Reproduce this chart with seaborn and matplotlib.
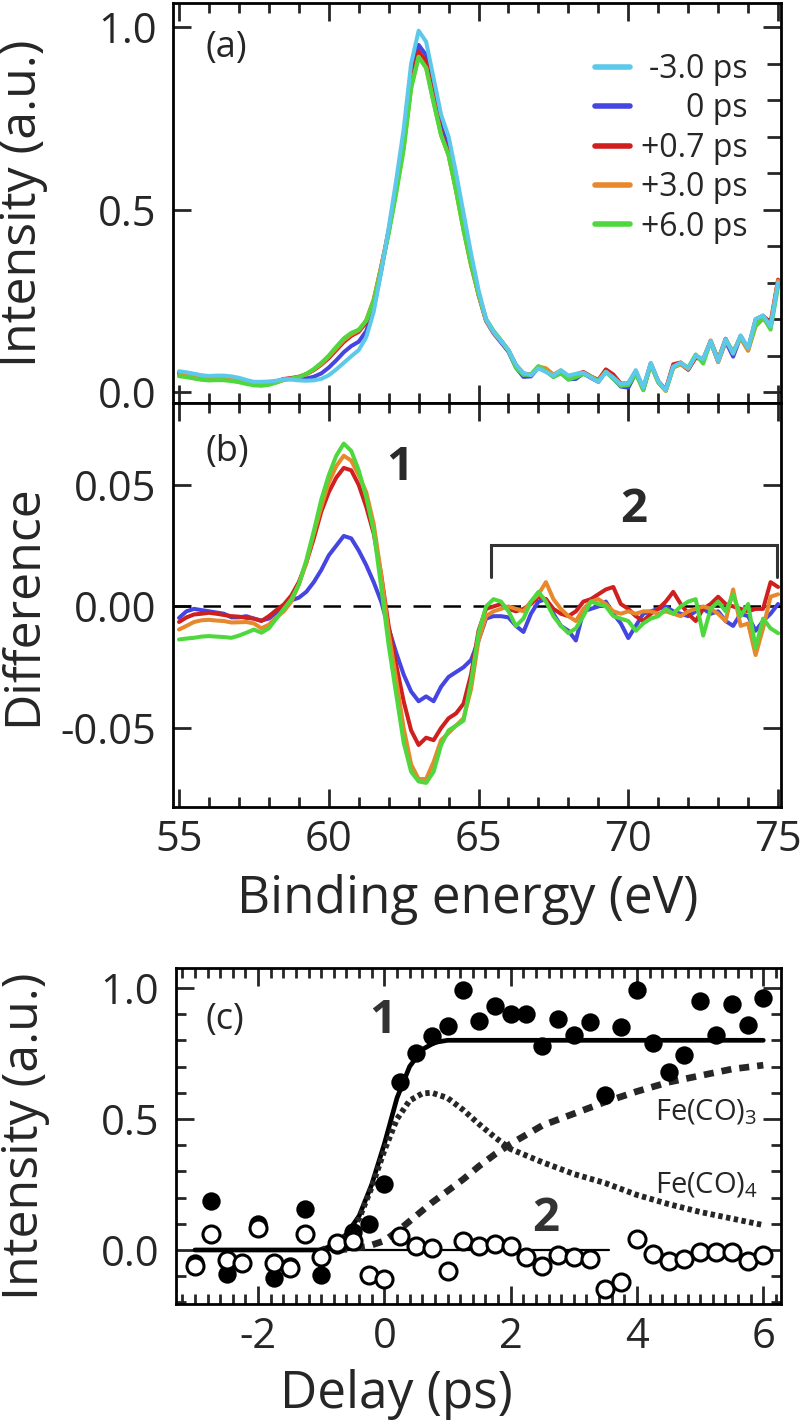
import numpy as np
import pandas as pd
import seaborn as sns
import matplotlib.pyplot as plt
from matplotlib.ticker import MultipleLocator, FixedLocator, FormatStrFormatter

# === DATA: panel (a)/(b), binding energy grid (0.25 eV sampling) ===
energy = np.arange(55.0, 75.001, 0.25)

# reference spectrum at -3.0 ps
spec_m30 = [0.057, 0.054, 0.050, 0.046, 0.044, 0.045, 0.045, 0.043, 0.039, 0.033,
            0.028, 0.028, 0.029, 0.031, 0.035, 0.034, 0.032, 0.031, 0.032, 0.036,
            0.046, 0.062, 0.080, 0.098, 0.115, 0.150, 0.220, 0.330, 0.450, 0.580,
            0.720, 0.900, 0.990, 0.960, 0.860, 0.760, 0.700, 0.600, 0.490, 0.380,
            0.280, 0.200, 0.165, 0.140, 0.115, 0.075, 0.052, 0.046, 0.065, 0.055,
            0.045, 0.060, 0.045, 0.050, 0.053, 0.040, 0.028, 0.055, 0.040, 0.022,
            0.025, 0.060, 0.012, 0.080, 0.030, 0.005, 0.070, 0.080, 0.065, 0.100,
            0.090, 0.140, 0.085, 0.145, 0.105, 0.155, 0.120, 0.200, 0.210, 0.180,
            0.300]

# difference spectra (delay - reference)
diff_0 = [-0.0047, -0.002, -0.001, -0.0015, -0.002, -0.0025, -0.003, -0.0045, -0.0045, -0.004,
          -0.005, -0.0058, -0.005, -0.0026, 0.000, 0.0025, 0.0036, 0.006, 0.010, 0.015,
          0.021, 0.025, 0.029, 0.028, 0.023, 0.017, 0.010, 0.002, -0.009, -0.019,
          -0.028, -0.035, -0.039, -0.037, -0.039, -0.033, -0.029, -0.027, -0.025, -0.022,
          -0.014, -0.005, -0.004, -0.004, -0.0045, -0.008, -0.0105, -0.003, 0.002, 0.003,
          -0.003, -0.008, -0.010, -0.014, -0.002, -0.001, 0.000, 0.002, -0.003, -0.007,
          -0.013, -0.008, -0.003, -0.002, -0.001, 0.000, -0.002, -0.003, -0.004, -0.002,
          -0.001, -0.003, -0.002, -0.006, -0.008, -0.003, -0.004, -0.010, -0.006, -0.003,
          0.001]
diff_07 = [-0.0064, -0.0045, -0.0033, -0.003, -0.0026, -0.003, -0.0035, -0.004, -0.0042, -0.0047,
           -0.005, -0.006, -0.004, -0.0015, 0.0008, 0.0045, 0.010, 0.018, 0.028, 0.039,
           0.047, 0.053, 0.057, 0.056, 0.050, 0.041, 0.030, 0.013, -0.008, -0.024,
           -0.039, -0.051, -0.057, -0.054, -0.055, -0.050, -0.046, -0.044, -0.040, -0.028,
           -0.010, -0.001, 0.000, 0.001, -0.001, -0.002, -0.001, 0.001, 0.004, 0.003,
           -0.001, -0.003, -0.004, -0.002, 0.002, 0.003, 0.005, 0.007, 0.008, 0.001,
           -0.001, -0.004, -0.006, -0.003, -0.001, 0.002, 0.006, 0.001, -0.003, -0.006,
           -0.001, 0.001, 0.004, 0.001, 0.000, -0.001, -0.002, -0.001, -0.001, 0.010,
           0.008]
diff_30 = [-0.0095, -0.008, -0.0064, -0.0057, -0.0055, -0.0058, -0.006, -0.0066, -0.0065, -0.0064,
           -0.007, -0.009, -0.0075, -0.0045, -0.002, 0.002, 0.009, 0.018, 0.030, 0.041,
           0.051, 0.0577, 0.062, 0.060, 0.054, 0.047, 0.034, 0.013, -0.011, -0.030,
           -0.050, -0.065, -0.071, -0.071, -0.064, -0.055, -0.052, -0.049, -0.046, -0.034,
           -0.014, -0.004, -0.002, -0.001, 0.000, -0.001, -0.002, 0.002, 0.005, 0.010,
           0.003, -0.001, -0.004, -0.006, -0.001, 0.002, 0.003, 0.001, -0.002, -0.003,
           -0.002, -0.003, -0.002, -0.002, -0.003, -0.002, -0.003, -0.004, -0.002, -0.001,
           0.000, -0.001, -0.003, -0.006, 0.007, -0.008, -0.007, -0.020, -0.009, 0.004,
           0.005]
diff_60 = [-0.0136, -0.0132, -0.0129, -0.0124, -0.0122, -0.0124, -0.0126, -0.0129, -0.012, -0.0108,
           -0.0095, -0.0108, -0.009, -0.005, -0.001, 0.003, 0.009, 0.019, 0.031, 0.044,
           0.054, 0.062, 0.067, 0.064, 0.056, 0.045, 0.031, 0.008, -0.016, -0.036,
           -0.056, -0.068, -0.072, -0.0726, -0.068, -0.057, -0.051, -0.049, -0.047, -0.031,
           -0.011, 0.000, 0.003, 0.002, -0.002, -0.008, -0.005, 0.002, 0.006, 0.002,
           -0.004, -0.008, -0.011, -0.009, -0.004, 0.002, 0.001, 0.000, -0.004, -0.005,
           -0.006, -0.010, -0.007, -0.005, -0.004, -0.001, -0.003, 0.000, 0.002, 0.003,
           -0.012, -0.001, 0.002, -0.002, 0.005, -0.004, 0.001, -0.017, -0.005, -0.009,
           -0.011]

delay_labels = ['-3.0 ps', '0 ps', '+0.7 ps', '+3.0 ps', '+6.0 ps']
delay_colors = ['#5cc9ea', '#4545e2', '#d01f1f', '#e8882c', '#4fd83e']

# === DATA: panel (c) ===
delays = [-3.0, -2.75, -2.5, -2.25, -2.0, -1.75, -1.5, -1.25, -1.0, -0.75,
          -0.5, -0.25, 0.0, 0.25, 0.5, 0.75, 1.0, 1.25, 1.5, 1.75,
          2.0, 2.25, 2.5, 2.75, 3.0, 3.25, 3.5, 3.75, 4.0, 4.25,
          4.5, 4.75, 5.0, 5.25, 5.5, 5.75, 6.0]
peak1 = [-0.05, 0.185, -0.09, -0.05, 0.10, -0.105, -0.06, 0.155, -0.096, 0.02,
         0.07, 0.10, 0.25, 0.64, 0.75, 0.815, 0.856, 0.99, 0.875, 0.93,
         0.90, 0.90, 0.78, 0.88, 0.82, 0.87, 0.59, 0.85, 0.99, 0.79,
         0.68, 0.745, 0.95, 0.82, 0.94, 0.86, 0.96]
peak2 = [-0.062, 0.062, -0.040, -0.048, 0.082, -0.048, -0.068, 0.062, -0.027, 0.027,
         0.034, -0.096, -0.11, 0.055, 0.014, 0.007, -0.082, 0.034, 0.014, 0.021,
         0.014, -0.027, -0.062, -0.021, -0.027, -0.034, -0.15, -0.123, 0.041, -0.014,
         -0.041, -0.034, -0.007, -0.007, -0.007, -0.041, -0.021]

fit1_t = [-3.0, -1.0, -0.8, -0.6, -0.4, -0.2, 0.0, 0.2, 0.4, 0.6, 0.8, 1.0, 1.2, 6.0]
fit1 = [0.0, 0.0, 0.02, 0.06, 0.13, 0.25, 0.405, 0.58, 0.70, 0.765, 0.792, 0.80, 0.80, 0.80]
fit2_t = [-3.0, 3.55]
fit2 = [0.0, 0.0]
feco4_t = [-1.0, -0.8, -0.6, -0.4, -0.2, 0.0, 0.2, 0.4, 0.6, 0.75, 1.0, 1.25, 1.5,
           1.75, 2.0, 2.5, 3.0, 3.5, 4.0, 4.5, 5.0, 5.5, 6.0]
feco4 = [0.0, 0.02, 0.055, 0.12, 0.24, 0.38, 0.50, 0.57, 0.597, 0.60, 0.58, 0.534, 0.48,
         0.43, 0.385, 0.335, 0.29, 0.255, 0.21, 0.175, 0.145, 0.12, 0.095]
feco3_t = [-0.75, -0.5, -0.25, 0.0, 0.25, 0.5, 0.75, 1.0, 1.25, 1.5, 1.75, 2.0,
           2.5, 3.0, 3.5, 4.0, 4.5, 5.0, 5.5, 6.0]
feco3 = [0.0, 0.005, 0.015, 0.035, 0.08, 0.13, 0.18, 0.225, 0.27, 0.32, 0.365, 0.405,
         0.475, 0.52, 0.565, 0.605, 0.64, 0.665, 0.69, 0.705]

# === STYLE ===
sns.set_theme(style='ticks')
plt.rcParams['font.family'] = ['Open Sans', 'DejaVu Sans']
plt.rcParams['axes.unicode_minus'] = False
plt.rcParams['mathtext.fontset'] = 'custom'
plt.rcParams['mathtext.rm'] = 'Open Sans'

TICK_FS = 30
LABEL_FS = 36

fig = plt.figure(figsize=(8.01, 14.22), dpi=100)
ax_a = fig.add_axes([0.2160, 0.7166, 0.7591, 0.2813])
ax_b = fig.add_axes([0.2160, 0.4325, 0.7591, 0.2841])
ax_c = fig.add_axes([0.2197, 0.0830, 0.7553, 0.2363])

spectra = {
    '-3.0 ps': np.array(spec_m30),
    '0 ps': np.array(spec_m30) + np.array(diff_0),
    '+0.7 ps': np.array(spec_m30) + np.array(diff_07),
    '+3.0 ps': np.array(spec_m30) + np.array(diff_30),
    '+6.0 ps': np.array(spec_m30) + np.array(diff_60),
}
diffs = {'0 ps': diff_0, '+0.7 ps': diff_07, '+3.0 ps': diff_30, '+6.0 ps': diff_60}
color_of = dict(zip(delay_labels, delay_colors))

# --- panel (a) ---
for lab in ['0 ps', '+0.7 ps', '+3.0 ps', '+6.0 ps', '-3.0 ps']:
    sns.lineplot(x=energy, y=spectra[lab], ax=ax_a, color=color_of[lab], lw=2.9,
                 label=lab, legend=False)
handles, labels = ax_a.get_legend_handles_labels()
order = [labels.index(l) for l in delay_labels]
leg = ax_a.legend([handles[i] for i in order], [labels[i] for i in order],
                  loc='upper right', bbox_to_anchor=(0.945, 0.875), frameon=False,
                  fontsize=23, handlelength=1.1, handletextpad=0.35, labelspacing=0.2,
                  borderpad=0, borderaxespad=0)
for h in leg.get_lines():
    h.set_linewidth(4)

# right-align the legend labels
fig.canvas.draw()
widths = [t.get_window_extent().width for t in leg.get_texts()]
w = max(widths)
for t, wi in zip(leg.get_texts(), widths):
    t.set_position((w - wi, 0))

ax_a.set_xlim(54.8, 75.1)
ax_a.set_ylim(-0.03, 1.066)
ax_a.set_ylabel('Intensity (a.u.)', fontsize=LABEL_FS)
ax_a.set_xlabel('')
ax_a.text(0.053, 0.8875, '(a)', transform=ax_a.transAxes, fontsize=26, va='center', ha='left')

# --- panel (b) ---
ax_b.axhline(0, color='black', lw=1.8, ls=(0, (7, 5)), zorder=1)
for lab in ['0 ps', '+0.7 ps', '+3.0 ps', '+6.0 ps']:
    sns.lineplot(x=energy, y=diffs[lab], ax=ax_b, color=color_of[lab], lw=2.9, legend=False)
ax_b.plot([65.42, 65.42, 74.97, 74.97], [0.012, 0.0252, 0.0252, 0.012], color='#333333',
          lw=2.2, solid_joinstyle='miter')
ax_b.text(62.37, 0.057, '1', fontsize=34, fontweight='bold', color='#2a2a2a', ha='center', va='center')
ax_b.text(70.17, 0.040, '2', fontsize=34, fontweight='bold', color='#2a2a2a', ha='center', va='center')
ax_b.text(0.053, 0.879, '(b)', transform=ax_b.transAxes, fontsize=26, va='center', ha='left')
ax_b.set_xlim(54.8, 75.1)
ax_b.set_ylim(-0.0825, 0.0837)
ax_b.set_xlabel('Binding energy (eV)', fontsize=37)
ax_b.set_ylabel('Difference', fontsize=LABEL_FS)

for ax in (ax_a, ax_b):
    ax.xaxis.set_major_locator(MultipleLocator(5))
    ax.xaxis.set_minor_locator(MultipleLocator(1))
    ax.tick_params(which='both', direction='in', top=True, bottom=True, left=True, right=True,
                   width=2, labelsize=TICK_FS)
    ax.tick_params(which='major', length=13)
    ax.tick_params(which='minor', length=7)
ax_a.tick_params(axis='x', labelbottom=False)
ax_a.yaxis.set_major_locator(FixedLocator([0.0, 0.5, 1.0]))
ax_a.yaxis.set_minor_locator(MultipleLocator(0.1))
ax_a.yaxis.set_major_formatter(FormatStrFormatter('%.1f'))
ax_a.tick_params(axis='y', which='minor', left=False, right=True, length=10)
ax_b.yaxis.set_major_locator(FixedLocator([-0.05, 0.0, 0.05]))
ax_b.yaxis.set_major_formatter(FormatStrFormatter('%.2f'))
ax_b.tick_params(axis='y', which='minor', left=False, right=False)

# --- panel (c) ---
sns.lineplot(x=fit1_t, y=fit1, ax=ax_c, color='black', lw=3.4, legend=False, sort=False)
sns.lineplot(x=fit2_t, y=fit2, ax=ax_c, color='black', lw=1.6, legend=False, sort=False)
sns.lineplot(x=feco4_t, y=feco4, ax=ax_c, color='#262626', lw=4.2, legend=False, sort=False)
ax_c.lines[-1].set_linestyle((0, (0.75, 0.6)))
sns.lineplot(x=feco3_t, y=feco3, ax=ax_c, color='#262626', lw=4.8, legend=False, sort=False)
ax_c.lines[-1].set_linestyle((0, (1.5, 1.2)))
sns.scatterplot(x=delays, y=peak1, ax=ax_c, color='black', s=175, linewidth=0, zorder=3)
sns.scatterplot(x=delays, y=peak2, ax=ax_c, color='white', edgecolor='black', s=150,
                linewidth=2.2, zorder=4)

ax_c.text(-0.02, 0.875, '1', fontsize=34, fontweight='bold', color='#333333', ha='center', va='center')
ax_c.text(2.56, 0.122, '2', fontsize=34, fontweight='bold', color='#333333', ha='center', va='center')
ax_c.text(4.29, 0.496, r'Fe(CO)$_\mathregular{3}$', fontsize=21, va='baseline', ha='left')
ax_c.text(4.29, 0.218, r'Fe(CO)$_\mathregular{4}$', fontsize=21, va='baseline', ha='left')
ax_c.text(0.048, 0.845, '(c)', transform=ax_c.transAxes, fontsize=26, va='center', ha='left')

ax_c.set_xlim(-3.30, 6.28)
ax_c.set_ylim(-0.206, 1.076)
ax_c.xaxis.set_major_locator(MultipleLocator(2))
ax_c.xaxis.set_minor_locator(MultipleLocator(0.2))
ax_c.yaxis.set_major_locator(FixedLocator([0.0, 0.5, 1.0]))
ax_c.yaxis.set_minor_locator(MultipleLocator(0.1))
ax_c.yaxis.set_major_formatter(FormatStrFormatter('%.1f'))
ax_c.tick_params(which='both', direction='in', top=True, bottom=True, left=True, right=True,
                 width=2, labelsize=TICK_FS)
ax_c.tick_params(which='major', length=13)
ax_c.tick_params(which='minor', length=7)
ax_c.set_xlabel('Delay (ps)', fontsize=37)
ax_c.set_ylabel('Intensity (a.u.)', fontsize=LABEL_FS)

for ax in (ax_a, ax_b, ax_c):
    for sp in ax.spines.values():
        sp.set_linewidth(2)
        sp.set_color('black')
    ax.tick_params(axis='y', pad=12)
    ax.tick_params(axis='x', pad=9)

ax_a.yaxis.set_label_coords(-0.205, 0.5)
ax_b.yaxis.set_label_coords(-0.205, 0.5)
ax_c.yaxis.set_label_coords(-0.208, 0.5)
ax_b.xaxis.set_label_coords(0.484, -0.166)
ax_c.xaxis.set_label_coords(0.365, -0.195)

fig.savefig('out.png', dpi=100)
